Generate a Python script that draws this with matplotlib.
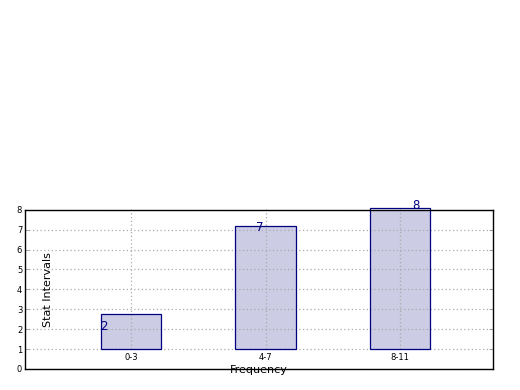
import matplotlib
matplotlib.use("Agg")
import matplotlib.pyplot as plt
import numpy as np

categories = ["0-3", "4-7", "8-11"]
counts = [2, 7, 8]
bar_tops = [2.75, 7.2, 8.08]
bar_base = 1.0
# where the count labels sit (x offset from bar centre, y in data units)
label_dx = [-0.2, -0.045, 0.12]
label_y = [2.15, 7.13, 8.2]

fig = plt.figure(figsize=(5.2, 3.9), dpi=100)
ax = fig.add_axes([0.048, 0.054, 0.9, 0.408])

x = np.arange(len(categories))
heights = [t - bar_base for t in bar_tops]
ax.bar(x, heights, width=0.45, bottom=bar_base, color="navy", alpha=0.2,
       zorder=1)
ax.bar(x, heights, width=0.45, bottom=bar_base, fill=False, edgecolor="navy",
       linewidth=0.9, zorder=3, clip_on=False)

for i, c in enumerate(counts):
  ax.text(x[i] + label_dx[i], label_y[i], str(c), color="navy", fontsize=8.5,
          ha="center", va="center", clip_on=False, zorder=4)

ax.set_xlim(-0.79, 2.69)
ax.set_ylim(0, 8)
ax.set_xticks(x)
ax.set_xticklabels(categories, fontsize=6)
ax.set_yticks(range(0, 9))
ax.tick_params(axis="y", labelsize=6, direction="in", right=True, length=3,
               width=0.5, color="#888888", pad=2)
ax.tick_params(axis="x", length=0, pad=-11.5)
ax.set_axisbelow(False)
ax.grid(True, axis="y", linestyle=(0, (1, 2)), color="#aaaaaa", linewidth=0.9)
# vertical grid only spans the bar range
ax.vlines(x, bar_base, 8.12, linestyles=[(0, (1, 2))], colors="#aaaaaa",
          linewidth=0.9, zorder=2, clip_on=False)
for s in ax.spines.values():
  s.set_linewidth(1.0)
  s.set_zorder(5)

ax.set_xlabel("Frequency", fontsize=8)
ax.xaxis.set_label_coords(0.5, 0.025)
ax.set_ylabel("Stat Intervals", fontsize=8)
ax.yaxis.set_label_coords(0.06, 0.5)

plt.savefig("out.png", dpi=100)
